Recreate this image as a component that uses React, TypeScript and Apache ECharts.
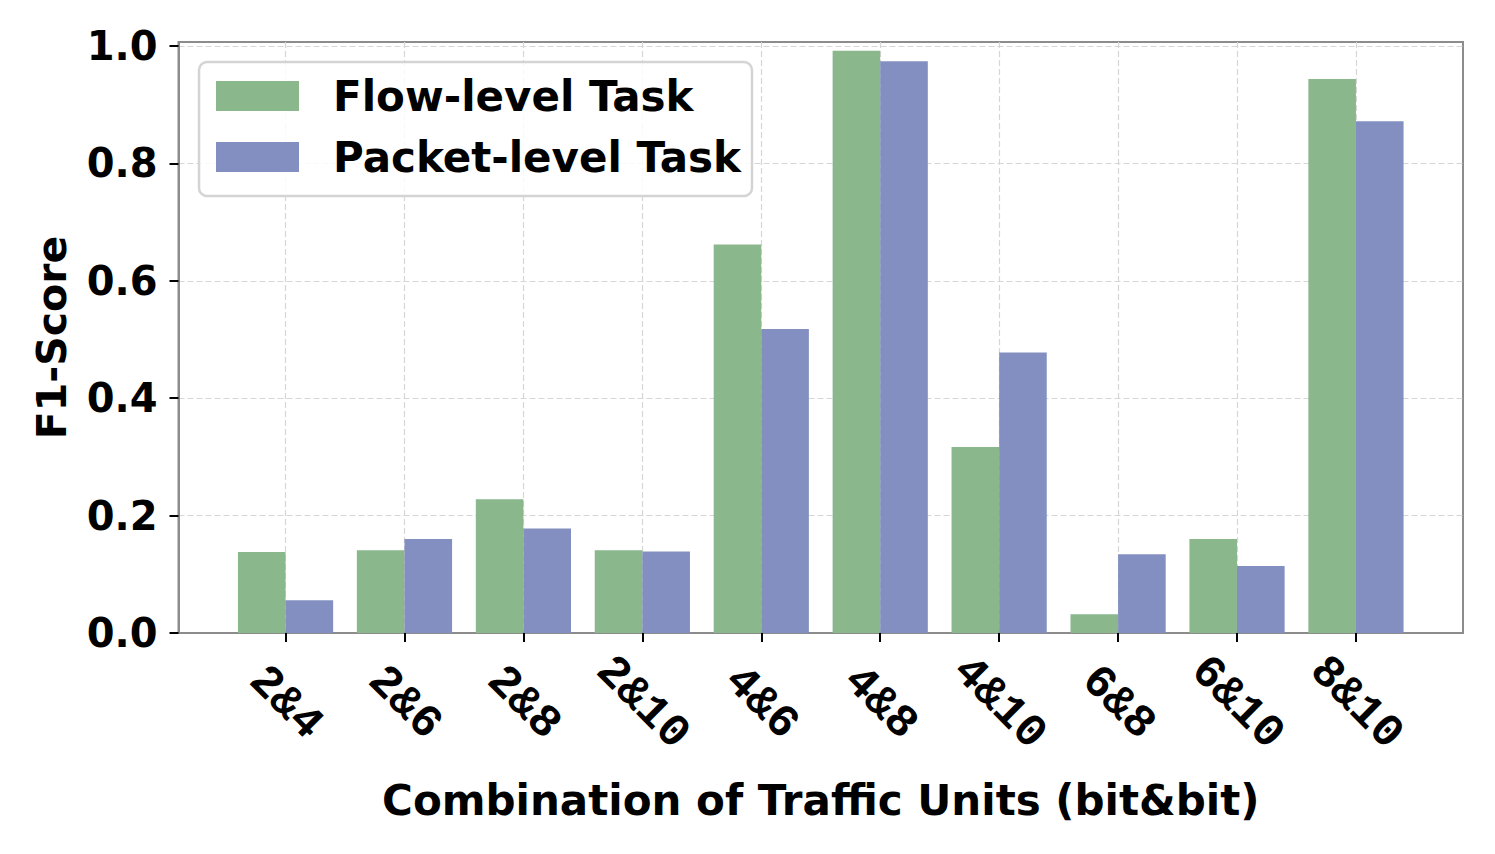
import React, { useEffect, useRef } from 'react';
import * as echarts from 'echarts';

const categories = ['2&4', '2&6', '2&8', '2&10', '4&6', '4&8', '4&10', '6&8', '6&10', '8&10'];
const flowLevel = [0.138, 0.141, 0.228, 0.141, 0.662, 0.992, 0.317, 0.032, 0.16, 0.944];
const packetLevel = [0.056, 0.16, 0.178, 0.139, 0.518, 0.974, 0.478, 0.134, 0.114, 0.872];
const yTicks = [0, 0.2, 0.4, 0.6, 0.8, 1.0];
const seriesNames = ['Flow-level Task', 'Packet-level Task'];

export default function App() {
  const ref = useRef<HTMLDivElement>(null);
  useEffect(() => {
    if (!ref.current) return;
    const chart = echarts.init(ref.current, undefined, { renderer: 'svg' });
    const xTicks = categories.map((_, i) => i);
    const font = 'DejaVu Sans';
    const option: any = {
      animation: false,
      backgroundColor: '#ffffff',
      grid: {
        left: 178.5,
        top: 42,
        right: 32,
        bottom: 221,
        show: true,
        borderColor: '#8c8c8c',
        borderWidth: 2,
        backgroundColor: 'transparent',
      },
      graphic: [
        {
          type: 'rect',
          z: 3,
          shape: { x: 199, y: 62, width: 553, height: 134, r: 8 },
          style: { fill: 'rgba(255,255,255,0.85)', stroke: '#d4d4d4', lineWidth: 2.5 },
        },
      ],
      legend: {
        show: true,
        orient: 'vertical',
        left: 216,
        top: 75,
        padding: 0,
        z: 5,
        itemWidth: 83,
        itemHeight: 30,
        itemGap: 19,
        icon: 'rect',
        data: seriesNames,
        textStyle: {
          fontFamily: font,
          fontWeight: 'bold',
          fontSize: 42,
          color: '#000',
          padding: [0, 0, 0, 29],
        },
      },
      xAxis: {
        type: 'value',
        min: -0.9,
        max: 9.9,
        splitNumber: 11,
        name: 'Combination of Traffic Units (bit&bit)',
        nameLocation: 'middle',
        nameGap: 146,
        nameTextStyle: { fontFamily: font, fontWeight: 'bold', fontSize: 42, color: '#000', verticalAlign: 'top' },
        axisLine: { show: true, onZero: false, lineStyle: { color: '#8c8c8c', width: 2 } },
        axisTick: { show: true, length: 9, customValues: xTicks, lineStyle: { color: '#000', width: 2 } },
        axisLabel: {
          customValues: xTicks,
          rotate: -45,
          align: 'center',
          verticalAlign: 'middle',
          margin: 70,
          fontFamily: 'Liberation Mono',
          fontWeight: 'bold',
          fontSize: 46,
          color: '#000',
          showMinLabel: true,
          showMaxLabel: true,
          formatter: (v: number) => {
            const r = Math.round(v);
            return Math.abs(v - r) < 1e-6 && r >= 0 && r < categories.length ? categories[r] : '';
          },
        },
        splitLine: { show: true, lineStyle: { color: '#d6d6d6', width: 1.2, type: [6, 3] } },
      },
      yAxis: {
        type: 'value',
        min: 0,
        max: 1.007,
        interval: 0.2,
        name: 'F1-Score',
        nameLocation: 'middle',
        nameGap: 106,
        nameRotate: 90,
        nameTextStyle: { fontFamily: font, fontWeight: 'bold', fontSize: 41, color: '#000' },
        axisLine: { show: true, onZero: false, lineStyle: { color: '#8c8c8c', width: 2 } },
        axisTick: { show: true, length: 9, customValues: yTicks, lineStyle: { color: '#000', width: 2 } },
        axisLabel: {
          customValues: yTicks,
          margin: 21,
          fontFamily: font,
          fontWeight: 'bold',
          fontSize: 40,
          color: '#000',
          formatter: (v: number) => (v > 1.0001 ? '' : v.toFixed(1)),
        },
        splitLine: { show: true, lineStyle: { color: '#d6d6d6', width: 1.2, type: [6, 3] } },
      },
      series: [
        {
          name: seriesNames[0],
          type: 'bar',
          barWidth: 47.6,
          barGap: '0%',
          itemStyle: { color: '#8bb78c' },
          data: flowLevel.map((v, i) => [i, v]),
        },
        {
          name: seriesNames[1],
          type: 'bar',
          barWidth: 47.6,
          barGap: '0%',
          itemStyle: { color: '#838fc0' },
          data: packetLevel.map((v, i) => [i, v]),
        },
      ],
    };
    chart.setOption(option);
    return () => chart.dispose();
  }, []);
  return <div ref={ref} style={{ position: 'fixed', left: 0, top: 0, width: 1495, height: 854 }} />;
}
